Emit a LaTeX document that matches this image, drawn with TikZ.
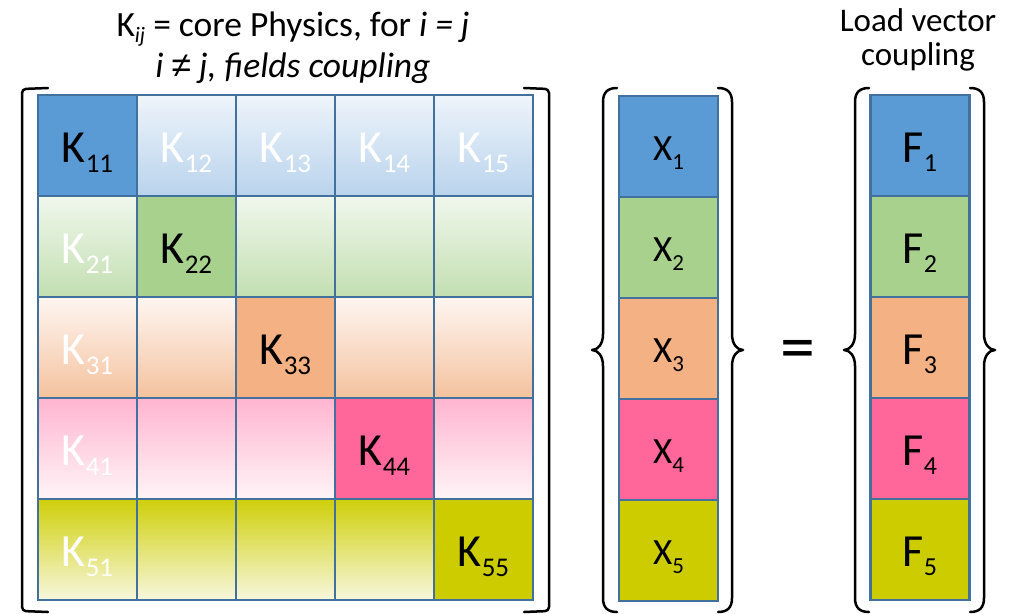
\documentclass[tikz,border=0pt]{standalone}
\usepackage{fontspec}
\setmainfont{Carlito}
\newfontfamily\neqfont{Liberation Sans}
\definecolor{edgeC}{HTML}{41719C}
\definecolor{blueC}{HTML}{5B9BD5}
\definecolor{greenC}{HTML}{A9D18E}
\definecolor{orangeC}{HTML}{F4B183}
\definecolor{pinkC}{HTML}{FF6699}
\definecolor{oliveC}{HTML}{CCCC00}
\definecolor{blueTop}{HTML}{EEF4FB}
\definecolor{blueBot}{HTML}{B9D3EC}
\definecolor{greenTop}{HTML}{F0F7EC}
\definecolor{greenBot}{HTML}{C3DFB1}
\definecolor{orangeTop}{HTML}{FEF6F1}
\definecolor{orangeBot}{HTML}{F4C29E}
\definecolor{pinkTop}{HTML}{FFB5CF}
\definecolor{pinkBot}{HTML}{FFF4F8}
\definecolor{oliveTop}{HTML}{CFCF0A}
\definecolor{oliveBot}{HTML}{F7F7DE}
\newcommand\ksub[1]{\raisebox{-10pt}{\fontsize{27}{27}\selectfont#1}}
\newcommand\xsub[1]{\raisebox{-9pt}{\fontsize{23}{23}\selectfont#1}}
\newcommand\fsub[1]{\raisebox{-9pt}{\fontsize{26}{26}\selectfont#1}}
\tikzset{
  cell/.style={draw=edgeC, line width=2.5pt, minimum width=99pt, minimum height=101pt,
    inner sep=0pt, text height=34pt, text depth=0pt, font=\fontsize{46}{46}\selectfont},
  vcell/.style={cell, minimum width=99pt},
  bracketline/.style={line width=2.5pt, line cap=round, line join=round},
  curly/.pic={
    \draw[bracketline] (14,-262) .. controls (5,-262) and (0,-258) .. (0,-248) -- (0,-16)
      .. controls (0,-6) and (-5,0) .. (-11,0) .. controls (-5,0) and (0,6) .. (0,16)
      -- (0,248) .. controls (0,258) and (5,262) .. (14,262);
  }
}
\begin{document}
\begin{tikzpicture}[x=1pt,y=-1pt]
  \useasboundingbox (0,0) rectangle (1016,613);
  % stiffness matrix, row by row
  \foreach \i/\tc/\bc/\dc in {1/blueTop/blueBot/blueC,2/greenTop/greenBot/greenC,
      3/orangeTop/orangeBot/orangeC,4/pinkTop/pinkBot/pinkC,5/oliveTop/oliveBot/oliveC}{
    \foreach \j in {1,...,5}{
      \pgfmathsetmacro\cx{87.5+99*(\j-1)}
      \pgfmathsetmacro\cy{145.5+101*(\i-1)}
      \ifnum\i=\j
        \node[cell, fill=\dc] (k\i\j) at (\cx,\cy) {K\ksub{\i\j}};
      \else
        \node[cell, top color=\tc, bottom color=\bc, text=white] (k\i\j) at (\cx,\cy)
          {\ifnum\i=1 K\ksub{\i\j}\else\ifnum\j=1 K\ksub{\i\j}\fi\fi};
      \fi
    }
  }
  % square brackets round the matrix
  \draw[bracketline, rounded corners=4pt] (48,88) -- (22,89) -- (22,611) -- (48,612);
  \draw[bracketline, rounded corners=4pt] (524,88) -- (549,89) -- (549,611) -- (524,612);
  % unknowns and loads
  \foreach \i/\c in {1/blueC,2/greenC,3/orangeC,4/pinkC,5/oliveC}{
    \pgfmathsetmacro\vy{145.5+101*(\i-1)}
    \node[vcell, fill=\c, text height=27pt, font=\fontsize{37}{37}\selectfont] (x\i) at (668.5,\vy+1) {X\xsub{\i}};
    \node[vcell, fill=\c, text height=33pt] (f\i) at (920,\vy) {F\fsub{\i}};
  }
  % curly braces
  \pic at (603,350) {curly};
  \pic[xscale=-1] at (732,350) {curly};
  \pic at (855,350) {curly};
  \pic[xscale=-1] at (984,350) {curly};
  \node[font=\fontsize{70}{70}\selectfont] (eq) at (798,355) {=};
  % titles
  \node[font=\fontsize{35.5}{41}\selectfont, align=center] (ktitle) at (293,48)
    {K\raisebox{-6pt}{\fontsize{22}{22}\selectfont\itshape ij} = core Physics, for \textit{i = j}\\
     \textit{i {\neqfont ≠} j, fields coupling}};
  \node[font=\fontsize{33}{34}\selectfont, align=center] (ftitle) at (918,40)
    {Load vector\\coupling};
\end{tikzpicture}
\end{document}
